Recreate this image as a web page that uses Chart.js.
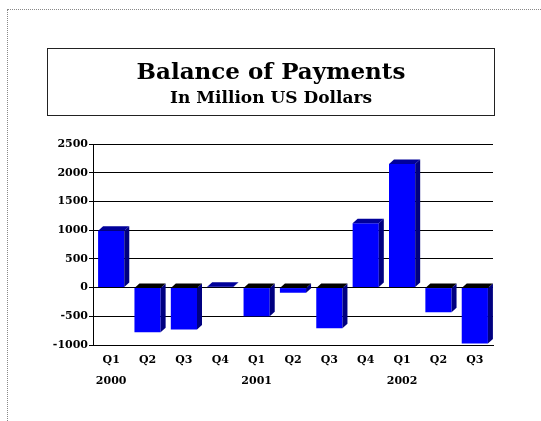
<!DOCTYPE html>
<html>
<head>
<meta charset="utf-8">
<title>Balance of Payments</title>
<script src="https://cdn.jsdelivr.net/npm/chart.js"></script>
<style>
  body { margin: 0; background: #fff; }
  #frame { position: absolute; left: 7px; top: 9px; width: 700px; height: 600px; border: 1px dotted #888; }
  #titleBox {
    position: absolute; left: 47px; top: 48px; width: 446px; height: 66px;
    border: 1px solid #222; text-align: center; font-family: "DejaVu Serif", serif; font-weight: bold; color: #000;
  }
  #titleBox .main { font-size: 23px; line-height: 28px; padding-top: 8px; }
  #titleBox .sub { font-size: 17px; line-height: 24px; }
  #myChart { position: absolute; left: 0; top: 0; }
</style>
</head>
<body>
<div id="frame"></div>
<canvas id="myChart" width="541" height="421"></canvas>
<div id="titleBox">
  <div class="main">Balance of Payments</div>
  <div class="sub">In Million US Dollars</div>
</div>
<script>
var quarters = ['Q1', 'Q2', 'Q3', 'Q4', 'Q1', 'Q2', 'Q3', 'Q4', 'Q1', 'Q2', 'Q3'];
var years = ['2000', '', '', '', '2001', '', '', '', '2002', '', ''];
var balance = [990, -780, -730, 15, -500, -90, -710, 1120, 2150, -430, -975];

var font = { family: 'DejaVu Serif', size: 11, weight: 'bold' };

// side and top faces so the columns look 3d
var columns3d = {
    id: 'columns3d',
    afterDatasetsDraw: function(chart) {
        var ctx = chart.ctx;
        var dx = 5, dy = 4.5;
        chart.getDatasetMeta(0).data.forEach(function(bar, i) {
            var p = bar.getProps(['x', 'y', 'base', 'width'], true);
            var left = p.x - p.width / 2, right = p.x + p.width / 2;
            var top = Math.min(p.y, p.base), bottom = Math.max(p.y, p.base);
            ctx.save();
            ctx.fillStyle = '#000080';
            ctx.beginPath();
            ctx.moveTo(right, top);
            ctx.lineTo(right + dx, top - dy);
            ctx.lineTo(right + dx, bottom - dy);
            ctx.lineTo(right, bottom);
            ctx.closePath();
            ctx.fill();
            ctx.fillStyle = balance[i] >= 0 ? '#00009a' : '#000000';
            ctx.beginPath();
            ctx.moveTo(left, top);
            ctx.lineTo(left + dx, top - dy);
            ctx.lineTo(right + dx, top - dy);
            ctx.lineTo(right, top);
            ctx.closePath();
            ctx.fill();
            ctx.restore();
        });
    }
};

var ctx = document.getElementById('myChart');

var myChart = new Chart(ctx, {
    type: 'bar',
    data: {
        labels: quarters,
        datasets: [{
            label: 'Balance',
            data: balance,
            backgroundColor: '#0000ff',
            borderWidth: 0,
            barPercentage: 0.8,
            categoryPercentage: 0.9
        }]
    },
    options: {
        responsive: false,
        animation: false,
        layout: { padding: { left: 47, right: 48, top: 144, bottom: 30 } },
        plugins: {
            legend: { display: false },
            tooltip: { enabled: false }
        },
        scales: {
            y: {
                min: -1000,
                max: 2500,
                afterFit: function(scale) { scale.width = 46; },
                ticks: {
                    stepSize: 500, font: font, color: '#000', padding: 1,
                    callback: function(v) { return String(v); }
                },
                grid: { color: '#000', tickColor: '#000', tickLength: 4 },
                border: { color: '#000' }
            },
            x: {
                afterFit: function(scale) { scale.height = 22; },
                ticks: { font: font, color: '#000', padding: 9, maxRotation: 0, autoSkip: false },
                grid: {
                    drawTicks: false,
                    color: function(c) { return c.index === quarters.length ? '#aaa' : 'rgba(0,0,0,0)'; }
                },
                border: { color: '#000' }
            },
            year: {
                type: 'category',
                position: 'bottom',
                labels: years,
                offset: true,
                afterFit: function(scale) { scale.height = 24; },
                ticks: { font: font, color: '#000', padding: 8, maxRotation: 0, autoSkip: false },
                grid: { display: false, drawTicks: false },
                border: { display: false }
            }
        }
    },
    plugins: [columns3d]
});
</script>
</body>
</html>
